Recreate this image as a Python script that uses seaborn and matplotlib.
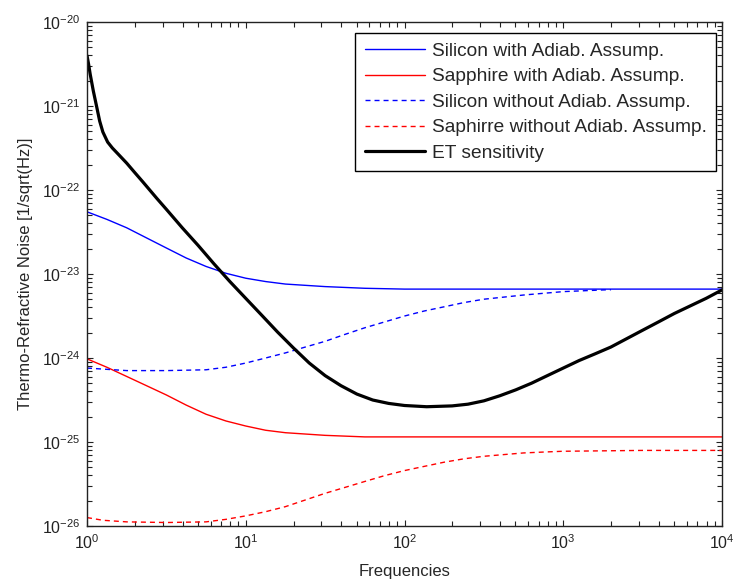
import matplotlib
matplotlib.use("Agg")
import matplotlib.pyplot as plt
import matplotlib.ticker as mticker
import seaborn as sns

# ---------------- data ----------------
si_adiab_freq = [1, 1.334, 1.778, 2.371, 3.162, 4.217, 5.623, 7.499, 10, 13.34, 17.78,
                 31.62, 56.23, 100, 316.2, 1000, 3162, 10000]
si_adiab = [5.50e-23, 4.47e-23, 3.55e-23, 2.69e-23, 2.04e-23, 1.55e-23, 1.23e-23,
            1.02e-23, 8.91e-24, 8.13e-24, 7.59e-24, 7.08e-24, 6.76e-24, 6.61e-24,
            6.61e-24, 6.61e-24, 6.61e-24, 6.61e-24]

sa_adiab_freq = [1, 1.334, 1.778, 2.371, 3.162, 4.217, 5.623, 7.499, 10, 13.34, 17.78,
                 31.62, 56.23, 100, 316.2, 1000, 3162, 10000]
sa_adiab = [9.77e-25, 7.76e-25, 6.03e-25, 4.68e-25, 3.63e-25, 2.75e-25, 2.14e-25,
            1.78e-25, 1.55e-25, 1.38e-25, 1.29e-25, 1.20e-25, 1.15e-25, 1.15e-25,
            1.15e-25, 1.15e-25, 1.15e-25, 1.15e-25]

si_noadiab_freq = [1, 1.778, 3.162, 5.623, 7.499, 10, 13.34, 17.78, 23.71, 31.62,
                   42.17, 56.23, 74.99, 100, 133.4, 177.8, 237.1, 316.2, 562.3, 1000,
                   1778, 2000]
si_noadiab = [7.59e-25, 7.08e-25, 7.08e-25, 7.24e-25, 7.76e-25, 8.71e-25, 1.00e-24,
              1.15e-24, 1.35e-24, 1.58e-24, 1.91e-24, 2.29e-24, 2.69e-24, 3.16e-24,
              3.63e-24, 4.07e-24, 4.57e-24, 5.01e-24, 5.62e-24, 6.17e-24, 6.46e-24,
              6.50e-24]

sa_noadiab_freq = [1, 1.259, 1.778, 3.162, 5.623, 7.499, 10, 13.34, 17.78, 23.71,
                   31.62, 42.17, 56.23, 74.99, 100, 133.4, 177.8, 237.1, 316.2,
                   421.7, 562.3, 749.9, 1000, 3162, 10000]
sa_noadiab = [1.26e-26, 1.17e-26, 1.12e-26, 1.10e-26, 1.12e-26, 1.20e-26, 1.32e-26,
              1.48e-26, 1.70e-26, 2.04e-26, 2.45e-26, 2.88e-26, 3.39e-26, 3.98e-26,
              4.57e-26, 5.13e-26, 5.75e-26, 6.31e-26, 6.76e-26, 7.08e-26, 7.41e-26,
              7.59e-26, 7.76e-26, 7.94e-26, 7.94e-26]

et_freq = [1.0, 1.023, 1.047, 1.096, 1.148, 1.202, 1.259, 1.349, 1.445, 1.585, 1.778,
           1.995, 2.239, 2.754, 3.162, 3.981, 5.012, 6.310, 7.943, 10, 12.59, 15.85,
           19.95, 25.12, 31.62, 39.81, 50.12, 63.10, 79.43, 100, 138.0, 199.5, 251.2,
           316.2, 398.1, 501.2, 631.0, 794.3, 1000, 1259, 1585, 1995, 2512, 3162,
           3981, 5012, 6310, 7943, 10000]
et_sens = [3.98e-21, 3.16e-21, 2.40e-21, 1.51e-21, 1.00e-21, 6.61e-22, 4.90e-22,
           3.72e-22, 3.16e-22, 2.63e-22, 2.09e-22, 1.62e-22, 1.26e-22, 7.94e-23,
           5.89e-23, 3.55e-23, 2.19e-23, 1.32e-23, 8.13e-24, 5.13e-24, 3.24e-24,
           2.04e-24, 1.32e-24, 8.71e-25, 6.17e-25, 4.68e-25, 3.72e-25, 3.16e-25,
           2.88e-25, 2.72e-25, 2.63e-25, 2.69e-25, 2.82e-25, 3.09e-25, 3.55e-25,
           4.17e-25, 5.01e-25, 6.17e-25, 7.59e-25, 9.33e-25, 1.12e-24, 1.35e-24,
           1.70e-24, 2.14e-24, 2.69e-24, 3.39e-24, 4.17e-24, 5.13e-24, 6.46e-24]

labels = ["Silicon with Adiab. Assump.", "Sapphire with Adiab. Assump.",
          "Silicon without Adiab. Assump.", "Saphirre without Adiab. Assump.",
          "ET sensitivity"]

# ---------------- style ----------------
sns.set_theme(style="white")
plt.rcParams["font.family"] = ["Liberation Sans", "DejaVu Sans"]
plt.rcParams["mathtext.default"] = "regular"

fig = plt.figure(figsize=(7.33, 5.84), dpi=100)
ax = fig.add_axes([87 / 733, 1 - 526 / 584, (722 - 87) / 733, (526 - 22) / 584])

dash = (3.6, 2.9)
sns.lineplot(x=si_adiab_freq, y=si_adiab, ax=ax, color="#0000ff", lw=1.0,
             label=labels[0], sort=False)
sns.lineplot(x=sa_adiab_freq, y=sa_adiab, ax=ax, color="#ff0000", lw=1.0,
             label=labels[1], sort=False)
sns.lineplot(x=si_noadiab_freq, y=si_noadiab, ax=ax, color="#0000ff", lw=1.0,
             label=labels[2], sort=False)
ax.lines[-1].set_dashes(dash)
sns.lineplot(x=sa_noadiab_freq, y=sa_noadiab, ax=ax, color="#ff0000", lw=1.0,
             label=labels[3], sort=False)
ax.lines[-1].set_dashes(dash)
sns.lineplot(x=et_freq, y=et_sens, ax=ax, color="black", lw=2.3,
             label=labels[4], sort=False)

ax.set_xscale("log")
ax.set_yscale("log")
ax.set_xlim(1, 1e4)
ax.set_ylim(1e-26, 1e-20)

ax.xaxis.set_major_locator(mticker.LogLocator(base=10, numticks=10))
ax.xaxis.set_minor_locator(mticker.LogLocator(base=10, subs=range(2, 10), numticks=50))
ax.yaxis.set_major_locator(mticker.LogLocator(base=10, numticks=10))
ax.yaxis.set_minor_locator(mticker.LogLocator(base=10, subs=range(2, 10), numticks=50))
ax.xaxis.set_minor_formatter(mticker.NullFormatter())
ax.yaxis.set_minor_formatter(mticker.NullFormatter())

ax.tick_params(which="both", direction="in", top=True, right=True,
               bottom=True, left=True, width=0.8, colors="#222222")
ax.tick_params(which="major", length=4.5, labelsize=11.5, pad=5)
ax.tick_params(which="minor", length=3.5)
for s in ax.spines.values():
    s.set_linewidth(1.0)
    s.set_color("#222222")

ax.set_xlabel("Frequencies", fontsize=12, labelpad=9)
ax.set_ylabel("Thermo-Refractive Noise [1/sqrt(Hz)]", fontsize=12, labelpad=6)

leg = ax.legend(loc="upper right", bbox_to_anchor=(716 / 733, 1 - 33 / 584),
                bbox_transform=fig.transFigure, borderaxespad=0,
                fontsize=13.8, frameon=True, fancybox=False, framealpha=1,
                edgecolor="black", handlelength=3.15, handletextpad=0.32,
                labelspacing=0.42, borderpad=0.5)
leg.get_frame().set_linewidth(1.0)

fig.savefig("out.png", dpi=100)
